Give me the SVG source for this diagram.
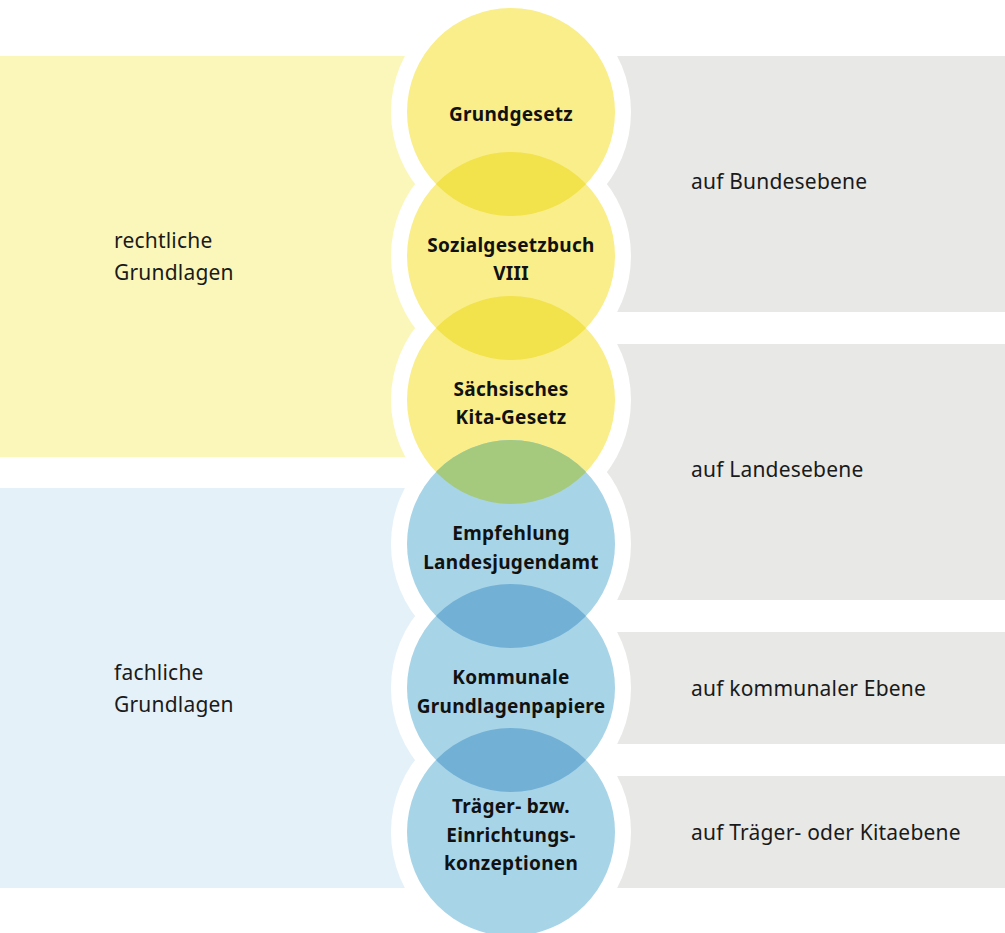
<svg xmlns="http://www.w3.org/2000/svg" width="1005" height="933" viewBox="0 0 1005 933">
<style>
.halo{fill:#ffffff}
.cy{fill:#F9EE8A}
.cb{fill:#A8D4E8}
.ly{fill:#F2E24B}
.lb{fill:#72B1D5}
.lg{fill:#A5CA7E}
.t{font-family:"Noto Sans","Open Sans",sans-serif;font-size:19px;letter-spacing:0.3px;font-weight:bold;fill:#111111;text-anchor:middle}
.s{font-family:"Noto Sans","Open Sans",sans-serif;font-size:21px;letter-spacing:0.2px;fill:#1a1a1a}
</style>
<defs>
<clipPath id="c1"><circle cx="511" cy="112" r="104"/></clipPath>
<clipPath id="c2"><circle cx="511" cy="256" r="104"/></clipPath>
<clipPath id="c3"><circle cx="511" cy="400" r="104"/></clipPath>
<clipPath id="c4"><circle cx="511" cy="544" r="104"/></clipPath>
<clipPath id="c5"><circle cx="511" cy="688" r="104"/></clipPath>
</defs>
<rect width="1005" height="933" fill="#ffffff"/>
<g id="bands">
<rect id="band-rechtlich" x="0" y="56" width="511" height="401" fill="#FBF7BA"/>
<rect id="band-fachlich" x="0" y="488" width="511" height="400" fill="#E5F1F8"/>
<rect id="band-bund" x="511" y="56" width="494" height="256" fill="#E8E8E6"/>
<rect id="band-land" x="511" y="344" width="494" height="256" fill="#E8E8E6"/>
<rect id="band-kommunal" x="511" y="632" width="494" height="112" fill="#E8E8E6"/>
<rect id="band-traeger" x="511" y="776" width="494" height="112" fill="#E8E8E6"/>
</g>
<g id="halos">
<circle class="halo" cx="511" cy="112" r="120"/>
<circle class="halo" cx="511" cy="256" r="120"/>
<circle class="halo" cx="511" cy="400" r="120"/>
<circle class="halo" cx="511" cy="544" r="120"/>
<circle class="halo" cx="511" cy="688" r="120"/>
<circle class="halo" cx="511" cy="832" r="120"/>
</g>
<g id="n1"><circle class="cy" cx="511" cy="112" r="104"/></g>
<g id="n2"><circle class="cy" cx="511" cy="256" r="104"/></g>
<g id="n3"><circle class="cy" cx="511" cy="400" r="104"/></g>
<g id="n4"><circle class="cb" cx="511" cy="544" r="104"/></g>
<g id="n5"><circle class="cb" cx="511" cy="688" r="104"/></g>
<g id="n6"><circle class="cb" cx="511" cy="832" r="104"/></g>
<g id="connectors">
<circle class="ly" cx="511" cy="256" r="104" clip-path="url(#c1)"/>
<circle class="ly" cx="511" cy="400" r="104" clip-path="url(#c2)"/>
<circle class="lg" cx="511" cy="544" r="104" clip-path="url(#c3)"/>
<circle class="lb" cx="511" cy="688" r="104" clip-path="url(#c4)"/>
<circle class="lb" cx="511" cy="832" r="104" clip-path="url(#c5)"/>
</g>
<g id="labels">
<text class="t" x="511" y="121">Grundgesetz</text>
<text class="t" x="511" y="252">Sozialgesetzbuch</text>
<text class="t" x="511" y="280">VIII</text>
<text class="t" x="511" y="396">Sächsisches</text>
<text class="t" x="511" y="424">Kita-Gesetz</text>
<text class="t" x="511" y="540">Empfehlung</text>
<text class="t" x="511" y="569">Landesjugendamt</text>
<text class="t" x="511" y="684">Kommunale</text>
<text class="t" x="511" y="713">Grundlagenpapiere</text>
<text class="t" x="511" y="813">Träger- bzw.</text>
<text class="t" x="511" y="842">Einrichtungs-</text>
<text class="t" x="511" y="870">konzeptionen</text>
<text class="s" x="114" y="248">rechtliche</text>
<text class="s" x="114" y="280">Grundlagen</text>
<text class="s" x="114" y="680">fachliche</text>
<text class="s" x="114" y="712">Grundlagen</text>
<text class="s" x="691" y="189">auf Bundesebene</text>
<text class="s" x="691" y="477">auf Landesebene</text>
<text class="s" x="691" y="696">auf kommunaler Ebene</text>
<text class="s" x="691" y="840">auf Träger- oder Kitaebene</text>
</g>
</svg>
